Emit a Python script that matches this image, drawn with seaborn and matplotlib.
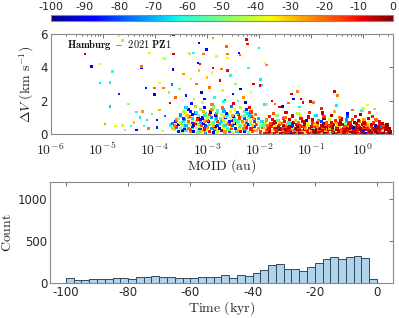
import numpy as np
import pandas as pd
import matplotlib
matplotlib.use('Agg')
import matplotlib.pyplot as plt
import seaborn as sns
from matplotlib.colors import Normalize
from matplotlib.cm import ScalarMappable
from matplotlib.ticker import LogLocator, NullFormatter

# --- histogram of close-approach times (2.5 kyr bins, -100 .. 0 kyr) ---
bin_starts = np.arange(-100, 0, 2.5)
bin_counts = [58, 35, 39, 47, 47, 50, 55, 65, 50, 70,
              72, 80, 72, 68, 60, 60, 65, 70, 72, 72,
              100, 64, 100, 88, 124, 160, 212, 224, 172, 172,
              148, 196, 232, 280, 304, 280, 304, 324, 292, 52]

# --- scatter points: (log10 MOID [au], dV [km/s], time [kyr]) ---
outlier_pts = [
    (-5.34, 4.80, -8), (-5.21, 4.06, -88), (-5.05, 3.06, -65), (-5.04, 4.20, -37), (-4.86, 3.10, -63),
    (-4.81, 3.76, -58), (-4.69, 2.40, -85), (-4.69, 5.90, -40), (-4.62, 5.60, -50), (-4.86, 1.66, -68),
    (-4.96, 0.62, -25), (-4.76, 0.50, -36), (-4.62, 0.52, -40), (-4.57, 0.26, -48), (-4.46, 0.50, -62),
    (-4.51, 1.82, -45), (-4.35, 1.34, -62), (-4.25, 3.96, -88), (-4.25, 4.06, -22), (-4.17, 2.76, -85),
    (-4.28, 1.00, -64), (-4.23, 1.36, -25), (-4.15, 0.86, -66), (-4.21, 0.50, -60), (-4.12, 0.35, -22),
    (-4.35, 0.26, -88), (-4.10, 4.86, -38), (-4.00, 2.36, -90), (-4.00, 2.76, -20), (-3.96, 0.86, -86),
    (-3.96, 0.40, -84), (-3.91, 1.46, -28), (-3.91, 3.06, -38), (-3.83, 4.56, -36), (-3.80, 4.50, -48),
    (-3.83, 2.76, -22), (-3.71, 1.86, -8), (-3.67, 2.96, -75), (-3.65, 3.86, -92), (-3.73, 2.50, -50),
    (-3.64, 5.95, -6), (-3.64, 4.80, -8), (-3.80, 1.10, -78), (-4.05, 1.20, -55), (-4.40, 0.70, -30),
    (-3.85, 0.20, -40),
    (-3.35, 4.86, -38), (-3.32, 4.80, -50), (-3.26, 4.86, -62), (-3.15, 5.46, -88), (-3.17, 4.26, -90),
    (-3.13, 4.20, -8), (-3.01, 5.06, -88), (-3.06, 4.80, -22), (-2.88, 5.76, -24), (-2.88, 3.96, -8),
    (-2.81, 4.66, -38), (-2.72, 3.90, -22), (-2.62, 5.26, -20), (-2.60, 4.80, -22), (-2.60, 4.56, -36),
    (-2.38, 4.86, -88), (-2.36, 4.75, -20), (-2.24, 5.66, -8), (-2.22, 5.40, -10), (-2.20, 3.96, -60),
    (-2.00, 5.16, -64), (-1.88, 4.26, -36), (-1.85, 4.15, -24), (-1.97, 3.26, -64), (-1.98, 2.90, -8),
    (-3.45, 3.60, -25), (-3.30, 3.30, -40), (-3.52, 2.70, -50), (-3.40, 2.30, -85), (-3.20, 3.00, -22),
    (-3.10, 2.50, -88), (-3.00, 3.40, -30), (-2.95, 2.80, -20), (-2.85, 2.20, -60), (-2.90, 3.70, -40),
    (-2.75, 3.20, -8), (-2.70, 2.60, -35), (-2.55, 3.50, -62), (-2.50, 2.40, -88), (-2.45, 3.00, -50),
    (-2.35, 2.70, -92), (-2.30, 2.20, -25), (-2.15, 2.50, -36), (-2.10, 3.00, -8), (-3.25, 2.10, -45),
    (-3.60, 2.20, -20), (-3.05, 2.10, -92), (-2.65, 2.05, -15), (-2.40, 2.00, -55), (-3.15, 3.80, -30),
    (-2.60, 3.80, -10),
    (-1.96, 3.26, -64), (-1.94, 2.95, -66), (-0.55, 2.56, -8), (-0.49, 2.32, -22), (-1.37, 2.40, -8),
    (-1.26, 2.56, -22), (-1.19, 2.12, -8), (-1.33, 2.12, -88), (-1.15, 1.90, -10), (-1.43, 1.86, -20),
    (-1.22, 1.62, -64), (-1.01, 1.96, -8), (-0.95, 1.90, -22), (-0.51, 1.72, -64), (0.09, 1.76, -38),
    (-1.69, 1.80, -22), (-1.90, 1.78, -64), (-1.85, 1.78, -48), (-1.60, 1.62, -8), (-1.55, 1.66, -88),
    (0.22, 1.50, -50), (-0.80, 1.55, -12), (-0.20, 1.45, -20), (-1.75, 2.00, -8),
]

left_cloud_pts = [
    (-3.55, 0.18, -85), (-3.47, 0.12, -40), (-3.40, 0.20, -62), (-3.32, 0.14, -22), (-3.25, 0.17, -95),
    (-3.17, 0.11, -50), (-3.10, 0.19, -30), (-3.02, 0.13, -70), (-2.95, 0.18, -12), (-2.87, 0.12, -88),
    (-2.80, 0.16, -45), (-2.72, 0.20, -58), (-2.65, 0.13, -25), (-2.57, 0.17, -78), (-2.50, 0.11, -35),
    (-2.42, 0.19, -66), (-2.35, 0.14, -8), (-2.27, 0.18, -92), (-2.20, 0.12, -52), (-2.12, 0.16, -18),
    (-2.05, 0.20, -28), (-1.97, 0.13, -15),
    (-3.62, 0.26, -48), (-3.46, 0.24, -90), (-3.31, 0.27, -15), (-3.16, 0.25, -62), (-3.01, 0.23, -35),
    (-2.86, 0.27, -80), (-2.71, 0.24, -5), (-2.56, 0.26, -55), (-2.41, 0.23, -28), (-2.26, 0.27, -72),
    (-2.11, 0.25, -20),
    (-3.65, 0.35, -30), (-3.58, 0.38, -75), (-3.50, 0.32, -55), (-3.43, 0.37, -90), (-3.35, 0.33, -20),
    (-3.28, 0.39, -65), (-3.20, 0.34, -42), (-3.13, 0.36, -82), (-3.05, 0.31, -10), (-2.98, 0.38, -48),
    (-2.90, 0.33, -72), (-2.83, 0.37, -27), (-2.75, 0.34, -96), (-2.68, 0.39, -38), (-2.60, 0.32, -60),
    (-2.53, 0.36, -15), (-2.45, 0.33, -84), (-2.38, 0.38, -33), (-2.30, 0.34, -22), (-2.23, 0.37, -68),
    (-2.15, 0.31, -12), (-2.08, 0.36, -40), (-2.00, 0.33, -25), (-1.93, 0.38, -18),
    (-3.58, 0.45, -12), (-3.43, 0.47, -66), (-3.28, 0.44, -86), (-3.13, 0.46, -40), (-2.98, 0.43, -24),
    (-2.83, 0.47, -92), (-2.68, 0.45, -50), (-2.53, 0.44, -30), (-2.38, 0.46, -64), (-2.23, 0.43, -10),
    (-2.08, 0.47, -82),
    (-3.70, 0.55, -60), (-3.62, 0.52, -22), (-3.55, 0.58, -88), (-3.47, 0.54, -45), (-3.40, 0.51, -70),
    (-3.32, 0.57, -35), (-3.25, 0.53, -92), (-3.17, 0.59, -52), (-3.10, 0.55, -18), (-3.02, 0.52, -80),
    (-2.95, 0.58, -62), (-2.87, 0.54, -28), (-2.80, 0.51, -85), (-2.72, 0.56, -42), (-2.65, 0.53, -66),
    (-2.57, 0.59, -12), (-2.50, 0.52, -76), (-2.42, 0.57, -38), (-2.35, 0.54, -55), (-2.27, 0.51, -24),
    (-2.20, 0.58, -90), (-2.12, 0.53, -30), (-2.05, 0.56, -16), (-1.97, 0.52, -48),
    (-3.66, 0.65, -75), (-3.51, 0.67, -28), (-3.36, 0.64, -56), (-3.21, 0.66, -8), (-3.06, 0.63, -88),
    (-2.91, 0.67, -44), (-2.76, 0.65, -68), (-2.61, 0.64, -20), (-2.46, 0.66, -94), (-2.31, 0.63, -38),
    (-2.16, 0.67, -58),
    (-3.60, 0.75, -95), (-3.52, 0.72, -38), (-3.44, 0.78, -64), (-3.36, 0.74, -20), (-3.28, 0.71, -82),
    (-3.20, 0.77, -48), (-3.12, 0.73, -70), (-3.04, 0.79, -26), (-2.96, 0.75, -90), (-2.88, 0.72, -55),
    (-2.80, 0.78, -14), (-2.72, 0.74, -68), (-2.64, 0.71, -40), (-2.56, 0.77, -86), (-2.48, 0.73, -30),
    (-2.40, 0.79, -60), (-2.32, 0.75, -22), (-2.24, 0.72, -78), (-2.16, 0.78, -44), (-2.08, 0.74, -10),
    (-2.00, 0.71, -35), (-1.94, 0.77, -65),
    (-3.58, 0.85, -22), (-3.43, 0.87, -70), (-3.28, 0.84, -45), (-3.13, 0.86, -92), (-2.98, 0.83, -16),
    (-2.83, 0.87, -62), (-2.68, 0.85, -32), (-2.53, 0.84, -84), (-2.38, 0.86, -52), (-2.23, 0.83, -26),
    (-2.08, 0.87, -76),
    (-3.55, 0.95, -50), (-3.45, 0.92, -84), (-3.36, 0.98, -28), (-3.27, 0.94, -66), (-3.18, 0.91, -12),
    (-3.09, 0.97, -90), (-3.00, 0.93, -42), (-2.91, 0.99, -74), (-2.82, 0.95, -20), (-2.73, 0.92, -58),
    (-2.64, 0.98, -88), (-2.55, 0.94, -36), (-2.46, 0.91, -62), (-2.37, 0.97, -16), (-2.28, 0.93, -80),
    (-2.19, 0.99, -46), (-2.10, 0.95, -25), (-2.01, 0.92, -70),
    (-3.50, 1.05, -60), (-3.33, 1.07, -18), (-3.16, 1.04, -84), (-2.99, 1.06, -44), (-2.82, 1.03, -70),
    (-2.65, 1.07, -30), (-2.48, 1.05, -90), (-2.31, 1.04, -52), (-2.14, 1.06, -12),
    (-3.50, 1.15, -72), (-3.38, 1.12, -30), (-3.27, 1.18, -88), (-3.16, 1.14, -52), (-3.05, 1.11, -64),
    (-2.94, 1.17, -18), (-2.83, 1.13, -94), (-2.72, 1.19, -40), (-2.61, 1.15, -60), (-2.50, 1.12, -26),
    (-2.39, 1.18, -82), (-2.28, 1.14, -48), (-2.17, 1.11, -68), (-2.06, 1.17, -22),
    (-3.42, 1.25, -34), (-3.22, 1.27, -78), (-3.02, 1.24, -56), (-2.82, 1.26, -20), (-2.62, 1.23, -88),
    (-2.42, 1.27, -46), (-2.22, 1.25, -66),
    (-3.45, 1.35, -45), (-3.32, 1.38, -86), (-3.19, 1.32, -62), (-3.06, 1.37, -28), (-2.93, 1.33, -90),
    (-2.80, 1.39, -55), (-2.67, 1.34, -70), (-2.54, 1.36, -35), (-2.41, 1.32, -80), (-2.28, 1.38, -58),
    (-2.15, 1.33, -15),
    (-3.35, 1.48, -92), (-3.12, 1.46, -52), (-2.90, 1.49, -24), (-2.68, 1.45, -70), (-2.46, 1.48, -38),
    (-2.24, 1.46, -84),
    (-3.40, 1.60, -66), (-3.22, 1.65, -30), (-3.05, 1.58, -88), (-2.88, 1.63, -50), (-2.70, 1.57, -20),
    (-2.53, 1.66, -76), (-2.35, 1.61, -42), (-2.18, 1.59, -10),
    (-3.30, 1.85, -85), (-3.08, 1.92, -40), (-2.90, 1.80, -22), (-2.68, 1.95, -62), (-2.48, 1.83, -8),
    (-2.25, 1.90, -92),
]

right_cloud_pts = [
    (-1.88, 0.02, -10), (-1.73, 0.02, -6), (-1.61, 0.01, -3), (-1.49, 0.02, -18), (-1.37, 0.01, -5),
    (-1.25, 0.02, -2), (-1.13, 0.01, -9), (-1.01, 0.02, -4), (-0.89, 0.01, -7), (-0.77, 0.02, -1),
    (-0.65, 0.01, -11), (-0.53, 0.02, -3), (-0.41, 0.01, -6), (-0.29, 0.02, -2), (-0.17, 0.01, -8),
    (-0.05, 0.02, -1), (0.07, 0.01, -4), (0.19, 0.02, -2), (0.31, 0.01, -7), (0.43, 0.02, -1),
    (0.53, 0.01, -3),
    (-1.82, 0.08, -12), (-1.76, 0.12, -22), (-1.70, 0.06, -8), (-1.64, 0.10, -30), (-1.58, 0.05, -5),
    (-1.52, 0.13, -15), (-1.46, 0.07, -10), (-1.40, 0.11, -85), (-1.34, 0.04, -7), (-1.28, 0.09, -20),
    (-1.22, 0.13, -3), (-1.16, 0.06, -12), (-1.10, 0.10, -35), (-1.04, 0.05, -9), (-0.98, 0.12, -18),
    (-0.92, 0.07, -4), (-0.86, 0.11, -11), (-0.80, 0.04, -25), (-0.74, 0.09, -6), (-0.68, 0.13, -14),
    (-0.62, 0.06, -62), (-0.56, 0.10, -2), (-0.50, 0.05, -10), (-0.44, 0.12, -19), (-0.38, 0.07, -5),
    (-0.32, 0.11, -13), (-0.26, 0.04, -28), (-0.20, 0.09, -8), (-0.14, 0.13, -3), (-0.08, 0.06, -16),
    (-0.02, 0.10, -7), (0.04, 0.05, -90), (0.10, 0.12, -11), (0.16, 0.07, -4), (0.22, 0.11, -21),
    (0.28, 0.04, -2), (0.34, 0.09, -9), (0.40, 0.13, -3), (0.46, 0.06, -14), (0.52, 0.10, -1),
    (-1.79, 0.16, -4), (-1.67, 0.17, -9), (-1.55, 0.15, -2), (-1.43, 0.17, -14), (-1.31, 0.16, -6),
    (-1.19, 0.15, -3), (-1.07, 0.17, -10), (-0.95, 0.16, -5), (-0.83, 0.15, -8), (-0.71, 0.17, -2),
    (-0.59, 0.16, -12), (-0.47, 0.15, -4), (-0.35, 0.17, -7), (-0.23, 0.16, -2), (-0.11, 0.15, -9),
    (0.01, 0.17, -3), (0.13, 0.16, -6), (0.25, 0.15, -1), (0.37, 0.17, -5), (0.49, 0.16, -2),
    (-1.86, 0.24, -20), (-1.79, 0.28, -9), (-1.73, 0.21, -40), (-1.67, 0.26, -13), (-1.61, 0.30, -6),
    (-1.55, 0.22, -24), (-1.49, 0.27, -3), (-1.43, 0.20, -11), (-1.37, 0.29, -17), (-1.31, 0.23, -70),
    (-1.25, 0.27, -8), (-1.19, 0.21, -22), (-1.13, 0.30, -5), (-1.07, 0.24, -12), (-1.01, 0.28, -33),
    (-0.95, 0.22, -7), (-0.89, 0.26, -2), (-0.83, 0.30, -15), (-0.77, 0.21, -9), (-0.71, 0.25, -26),
    (-0.65, 0.29, -4), (-0.59, 0.23, -12), (-0.53, 0.27, -50), (-0.47, 0.20, -6), (-0.41, 0.28, -18),
    (-0.35, 0.24, -3), (-0.29, 0.22, -10), (-0.23, 0.29, -23), (-0.17, 0.25, -7), (-0.11, 0.21, -14),
    (-0.05, 0.27, -2), (0.01, 0.23, -88), (0.07, 0.29, -9), (0.13, 0.22, -5), (0.19, 0.26, -16),
    (0.25, 0.30, -3), (0.31, 0.24, -11), (0.37, 0.20, -60), (0.43, 0.27, -2), (0.49, 0.23, -7),
    (-1.84, 0.32, -7), (-1.70, 0.33, -16), (-1.58, 0.31, -3), (-1.46, 0.33, -9), (-1.34, 0.32, -27),
    (-1.22, 0.31, -5), (-1.10, 0.33, -12), (-0.98, 0.32, -2), (-0.86, 0.31, -20), (-0.74, 0.33, -6),
    (-0.62, 0.32, -10), (-0.50, 0.31, -3), (-0.38, 0.33, -15), (-0.26, 0.32, -4), (-0.14, 0.31, -8),
    (-0.02, 0.33, -2), (0.10, 0.32, -13), (0.22, 0.31, -5), (0.34, 0.33, -9), (0.46, 0.32, -3),
    (-1.88, 0.40, -30), (-1.81, 0.36, -10), (-1.75, 0.44, -18), (-1.68, 0.38, -5), (-1.62, 0.42, -80),
    (-1.55, 0.35, -13), (-1.49, 0.45, -22), (-1.42, 0.39, -7), (-1.36, 0.43, -38), (-1.29, 0.36, -3),
    (-1.23, 0.41, -15), (-1.16, 0.45, -9), (-1.10, 0.37, -25), (-1.03, 0.42, -6), (-0.97, 0.38, -65),
    (-0.90, 0.44, -12), (-0.84, 0.36, -4), (-0.77, 0.41, -19), (-0.71, 0.45, -8), (-0.64, 0.37, -28),
    (-0.58, 0.42, -2), (-0.51, 0.39, -14), (-0.45, 0.44, -45), (-0.38, 0.36, -10), (-0.32, 0.41, -5),
    (-0.25, 0.45, -21), (-0.19, 0.38, -92), (-0.12, 0.43, -8), (-0.06, 0.37, -3), (0.01, 0.42, -17),
    (0.07, 0.39, -11), (0.14, 0.44, -33), (0.20, 0.36, -6), (0.27, 0.41, -2), (0.33, 0.45, -75),
    (0.40, 0.38, -12), (0.47, 0.40, -4),
    (-1.78, 0.47, -11), (-1.64, 0.48, -4), (-1.50, 0.46, -19), (-1.38, 0.48, -7), (-1.26, 0.47, -2),
    (-1.14, 0.46, -14), (-1.00, 0.48, -6), (-0.87, 0.47, -23), (-0.75, 0.46, -3), (-0.62, 0.48, -10),
    (-0.49, 0.47, -5), (-0.36, 0.46, -17), (-0.23, 0.48, -2), (-0.10, 0.47, -9), (0.03, 0.46, -4),
    (0.16, 0.48, -12), (0.29, 0.47, -6), (0.42, 0.46, -2),
    (-1.90, 0.55, -55), (-1.83, 0.52, -20), (-1.76, 0.58, -8), (-1.68, 0.51, -35), (-1.60, 0.57, -12),
    (-1.52, 0.53, -4), (-1.44, 0.59, -25), (-1.36, 0.52, -85), (-1.28, 0.56, -9), (-1.20, 0.50, -16),
    (-1.12, 0.58, -3), (-1.04, 0.54, -40), (-0.96, 0.51, -11), (-0.88, 0.57, -22), (-0.80, 0.53, -6),
    (-0.72, 0.59, -68), (-0.64, 0.52, -14), (-0.56, 0.56, -2), (-0.48, 0.50, -30), (-0.40, 0.58, -9),
    (-0.32, 0.54, -18), (-0.24, 0.51, -5), (-0.16, 0.57, -50), (-0.08, 0.53, -12), (0.00, 0.59, -7),
    (0.08, 0.52, -24), (0.16, 0.56, -3), (0.24, 0.50, -95), (0.32, 0.58, -10), (0.40, 0.54, -16),
    (-1.72, 0.62, -8), (-1.56, 0.63, -21), (-1.40, 0.61, -4), (-1.24, 0.63, -12), (-1.08, 0.62, -6),
    (-0.92, 0.61, -31), (-0.76, 0.63, -3), (-0.60, 0.62, -15), (-0.44, 0.61, -7), (-0.28, 0.63, -10),
    (-0.12, 0.62, -2), (0.04, 0.61, -18), (0.20, 0.63, -5), (0.34, 0.62, -9),
    (-1.87, 0.70, -42), (-1.78, 0.66, -15), (-1.69, 0.73, -6), (-1.60, 0.68, -28), (-1.51, 0.74, -10),
    (-1.42, 0.67, -62), (-1.33, 0.72, -3), (-1.24, 0.69, -20), (-1.15, 0.75, -8), (-1.06, 0.66, -35),
    (-0.97, 0.71, -13), (-0.88, 0.68, -5), (-0.79, 0.74, -82), (-0.70, 0.67, -18), (-0.61, 0.72, -9),
    (-0.52, 0.69, -26), (-0.43, 0.75, -4), (-0.34, 0.66, -48), (-0.25, 0.71, -12), (-0.16, 0.68, -2),
    (-0.07, 0.74, -22), (0.02, 0.67, -7), (0.11, 0.72, -38), (0.20, 0.69, -14),
    (-1.85, 0.85, -24), (-1.74, 0.90, -9), (-1.63, 0.82, -58), (-1.52, 0.92, -14), (-1.41, 0.86, -4),
    (-1.30, 0.80, -30), (-1.19, 0.94, -11), (-1.08, 0.84, -88), (-0.97, 0.89, -6), (-0.86, 0.81, -20),
    (-0.75, 0.93, -2), (-0.64, 0.86, -40), (-0.53, 0.83, -13), (-0.42, 0.91, -7), (-0.31, 0.85, -72),
    (-0.20, 0.88, -17), (-0.09, 0.82, -5), (0.02, 0.90, -27),
    (-1.80, 1.05, -12), (-1.65, 1.12, -50), (-1.50, 1.02, -20), (-1.35, 1.09, -6), (-1.20, 1.14, -33),
    (-1.05, 1.03, -9), (-0.90, 1.10, -65), (-0.75, 1.06, -15), (-0.60, 1.13, -3), (-0.45, 1.01, -22),
    (-0.30, 1.08, -80), (-0.15, 1.04, -10),
    (-1.72, 1.25, -18), (-1.48, 1.32, -8), (-1.25, 1.22, -45), (-1.02, 1.30, -14), (-0.78, 1.27, -5),
    (-0.55, 1.34, -28), (-0.30, 1.24, -90),
    (0.10, 0.95, -6), (0.18, 1.05, -12), (-0.05, 1.18, -3), (0.25, 0.85, -20), (0.32, 0.75, -9),
    (0.38, 0.62, -4), (0.46, 0.55, -2), (0.50, 0.32, -1), (0.53, 0.18, -2), (0.12, 1.28, -15),
    (-0.02, 1.40, -60), (0.00, 1.55, -35),
]

outliers = np.array(outlier_pts)
left_cloud = np.array(left_cloud_pts)
right_cloud = np.array(right_cloud_pts)

sns.set_style('white')
plt.rcParams['font.family'] = ['DejaVu Sans']
plt.rcParams['mathtext.fontset'] = 'cm'
plt.rcParams['axes.unicode_minus'] = False

tick_grey = '#262626'
spine_grey = '#8a8a8a'
jet = matplotlib.colormaps['jet']

fig = plt.figure(figsize=(3.99, 3.18), dpi=100)
cax = fig.add_axes([0.127, 0.934, 0.857, 0.019])
ax1 = fig.add_axes([0.127, 0.578, 0.857, 0.315])
ax2 = fig.add_axes([0.126, 0.110, 0.858, 0.318])

norm = Normalize(vmin=-100, vmax=0)

# scatter: MOID vs dV coloured by time
for pts, size in [(outliers, 3.5), (left_cloud, 5), (right_cloud, 5.5)]:
    sns.scatterplot(x=10 ** pts[:, 0], y=pts[:, 1], hue=pts[:, 2], palette=jet,
                    hue_norm=norm, marker='s', s=size, linewidth=0,
                    legend=False, ax=ax1)
ax1.set_xscale('log')
ax1.set_xlim(1e-6, 10 ** 0.57)
ax1.set_ylim(0, 6)
ax1.set_yticks([0, 2, 4, 6])
ax1.set_xticks([10.0 ** k for k in range(-6, 1)])
ax1.set_xticklabels([r'$\mathsf{10^{%d}}$' % k for k in range(-6, 1)])
ax1.xaxis.set_minor_locator(LogLocator(base=10, subs=np.arange(2, 10), numticks=20))
ax1.xaxis.set_minor_formatter(NullFormatter())
ax1.set_xlabel(r'$\mathrm{MOID\ (au)}$', fontsize=10, labelpad=-1)
ax1.set_ylabel(r'$\Delta V\ (\mathrm{km\ s^{-1}})$', fontsize=10, labelpad=3)
ax1.text(0.048, 0.89, r'$\mathbf{Hamburg\ -\ 2021\ PZ1}$', transform=ax1.transAxes,
         fontsize=7.5, va='center', ha='left', color='#111111')

# colorbar on top
cb = fig.colorbar(ScalarMappable(norm=norm, cmap=jet), cax=cax, orientation='horizontal')
cb.set_ticks(list(range(-100, 1, 10)))
cax.xaxis.set_ticks_position('top')
cax.xaxis.set_label_position('top')
cax.tick_params(direction='in', length=2, labelsize=8, pad=2, colors=tick_grey,
                color='#555555', width=0.6)
cb.outline.set_edgecolor(spine_grey)
cb.outline.set_linewidth(0.8)

# histogram of times
hist_df = pd.DataFrame({'time': bin_starts + 1.25, 'count': bin_counts})
sns.histplot(data=hist_df, x='time', weights='count', binwidth=2.5, binrange=(-100, 0),
             color='#B0D3EC', alpha=1.0, edgecolor='#33475a', linewidth=0.7, ax=ax2)
ax2.set_xlim(-105, 5)
ax2.set_ylim(0, 1200)
ax2.set_xticks(list(range(-100, 1, 20)))
ax2.set_yticks([0, 500, 1000])
ax2.set_xlabel(r'$\mathrm{Time\ (kyr)}$', fontsize=10, labelpad=0)
ax2.set_ylabel(r'$\mathrm{Count}$', fontsize=10, labelpad=3)

for ax in (ax1, ax2):
    ax.tick_params(which='both', direction='in', top=True, right=True,
                   labelsize=8.5, colors=tick_grey, color='#555555', width=0.6, pad=2)
    ax.tick_params(which='major', length=3)
    ax.tick_params(which='minor', length=1.5)
    for sp in ax.spines.values():
        sp.set_edgecolor(spine_grey)
        sp.set_linewidth(0.8)
ax1.tick_params(axis='x', which='major', labelsize=10, pad=5.5)

fig.savefig('out.png', dpi=100)
